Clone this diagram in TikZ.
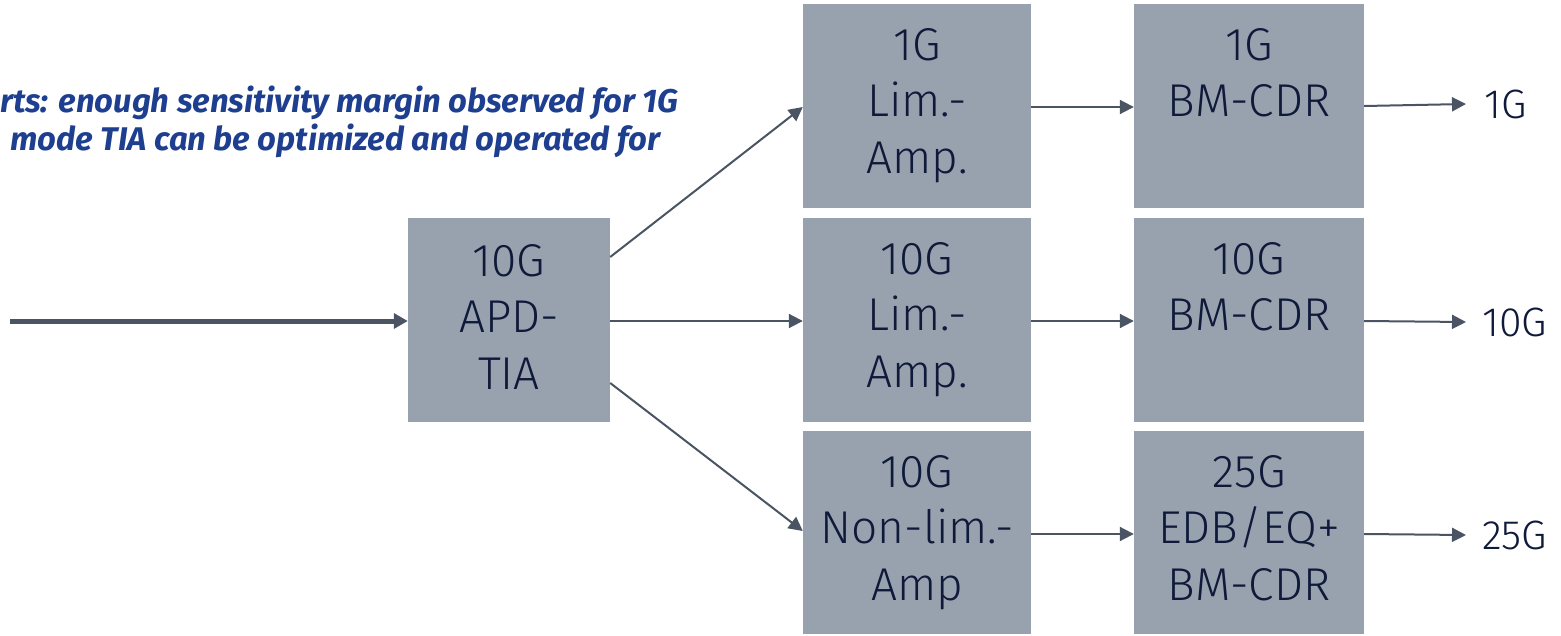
\documentclass[tikz,border=0pt]{standalone}
\usepackage{fontspec}
\setmainfont{Fira Sans Light}
\newfontfamily\notefont{Fira Sans}[UprightFont=* Bold, ItalicFont=* Bold Italic]
\usetikzlibrary{arrows.meta}
\definecolor{boxfill}{HTML}{98A2AE}
\definecolor{boxtext}{HTML}{0F1A3A}
\definecolor{arrowc}{HTML}{4A5463}
\definecolor{noteblue}{HTML}{1E3F8F}
\tikzset{
  blk/.style={fill=boxfill, draw=none},
  lbl/.style={anchor=north, align=center, text=boxtext, font=\fontsize{46}{56.5}\selectfont, inner sep=0pt},
  conn/.style={draw=arrowc, line width=2pt, -{Triangle[length=14pt,width=14pt]}},
  thick conn/.style={draw=arrowc, line width=5pt, -{Triangle[length=14pt,width=15pt]}},
  outlbl/.style={anchor=west, text=boxtext, font=\fontsize{41}{44}\selectfont, inner sep=0pt},
  note/.style={anchor=west, text=noteblue, font=\notefont\itshape\fontsize{32.8}{36}\selectfont, inner sep=0pt}
}
\begin{document}
\begin{tikzpicture}[x=1pt,y=-1pt]
\useasboundingbox (0,0) rectangle (1561,635);
\clip (0,0) rectangle (1561,635);
% boxes
\path[blk] (408,218) rectangle (610,422);
\path[blk] (803,4) rectangle (1031,208);
\path[blk] (803,218) rectangle (1031,422);
\path[blk] (803,431) rectangle (1031,634);
\path[blk] (1134,4) rectangle (1364,208);
\path[blk] (1134,218) rectangle (1364,422);
\path[blk] (1134,431) rectangle (1364,634);
% invisible anchor nodes
\node[minimum width=202pt, minimum height=204pt, inner sep=0pt] (TIA) at (509,320) {};
\node[minimum width=228pt, minimum height=204pt, inner sep=0pt] (A1) at (917,106) {};
\node[minimum width=228pt, minimum height=204pt, inner sep=0pt] (A2) at (917,320) {};
\node[minimum width=228pt, minimum height=203pt, inner sep=0pt] (A3) at (917,532.5) {};
\node[minimum width=230pt, minimum height=204pt, inner sep=0pt] (C1) at (1249,106) {};
\node[minimum width=230pt, minimum height=204pt, inner sep=0pt] (C2) at (1249,320) {};
\node[minimum width=230pt, minimum height=203pt, inner sep=0pt] (C3) at (1249,532.5) {};
% labels
\node[lbl] (tiat) at (509,244) {10G\\APD-\\TIA};
\node[lbl] (a1t) at (917,28) {1G\\Lim.-\\Amp.};
\node[lbl] (a2t) at (917,242) {10G\\Lim.-\\Amp.};
\node[lbl] (a3t) at (917,455) {10G\\Non-lim.-\\Amp};
\node[lbl] (c1t) at (1249,28) {1G\\BM-CDR};
\node[lbl] (c2t) at (1249,242) {10G\\BM-CDR};
\node[lbl] (c3t) at (1249,455) {25G\\EDB/EQ+\\BM-CDR};
% outputs
\node[outlbl] (o1) at (1484,104) {1G};
\node[outlbl] (o2) at (1482,322) {10G};
\node[outlbl] (o3) at (1482,535) {25G};
\coordinate (in) at (10,321);
\coordinate (e1) at (1466,104);
\coordinate (e2) at (1466,322);
\coordinate (e3) at (1466,535);
% connectors
\draw[thick conn] (in) -- (TIA.west |- in);
\draw[conn] (A1.west -| TIA.east) ++(0,151) coordinate (s1) (s1) -- (A1.west |- 0,107);
\draw[conn] (TIA.east |- 0,321) -- (A2.west |- 0,321);
\draw[conn] (TIA.east |- 0,383) -- (A3.west |- 0,531);
\draw[conn] (A1.east |- 0,107) -- (C1.west |- 0,107);
\draw[conn] (A2.east |- 0,321) -- (C2.west |- 0,321);
\draw[conn] (A3.east |- 0,534) -- (C3.west |- 0,534);
\draw[conn] (C1.east |- 0,106) -- (e1);
\draw[conn] (C2.east |- 0,321) -- (e2);
\draw[conn] (C3.east |- 0,534) -- (e3);
% note
\node[note] (n1) at (0,103) {rts: enough sensitivity margin observed for 1G};
\node[note] (n2) at (3,141) {\ mode TIA can be optimized and operated for};
\end{tikzpicture}
\end{document}
